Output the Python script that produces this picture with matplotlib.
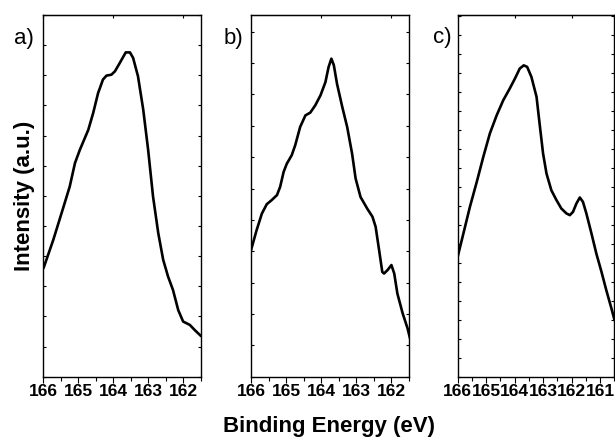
import matplotlib
matplotlib.use("Agg")
import matplotlib.pyplot as plt
from matplotlib.ticker import MultipleLocator, NullFormatter

plt.rcParams['font.family'] = ['Liberation Sans', 'DejaVu Sans']

# S 2p spectra, binding energy (eV) and intensity (a.u.)
energy_a = [166.0, 165.72, 165.44, 165.25, 165.10, 164.96, 164.72, 164.58, 164.44, 164.30,
            164.20, 164.06, 163.96, 163.82, 163.65, 163.53, 163.44, 163.30, 163.15, 163.01,
            162.87, 162.72, 162.58, 162.44, 162.30, 162.15, 162.01, 161.82, 161.68, 161.50]
intens_a = [3.60, 4.54, 5.59, 6.31, 7.09, 7.53, 8.19, 8.75, 9.41, 9.86,
            9.99, 10.02, 10.13, 10.41, 10.76, 10.76, 10.58, 9.97, 8.86, 7.53,
            5.98, 4.76, 3.88, 3.32, 2.88, 2.21, 1.83, 1.72, 1.55, 1.35]

energy_b = [166.0, 165.84, 165.69, 165.55, 165.41, 165.26, 165.17, 165.07, 164.98, 164.84,
            164.74, 164.60, 164.45, 164.31, 164.17, 164.02, 163.88, 163.79, 163.71, 163.64,
            163.55, 163.40, 163.26, 163.12, 163.02, 162.88, 162.69, 162.54, 162.45, 162.35,
            162.26, 162.21, 162.11, 162.00, 161.92, 161.83, 161.68, 161.54, 161.47]
intens_b = [4.03, 4.67, 5.20, 5.50, 5.63, 5.79, 6.05, 6.53, 6.79, 7.06,
            7.38, 7.96, 8.33, 8.42, 8.65, 8.97, 9.39, 9.87, 10.14, 9.93,
            9.34, 8.60, 7.96, 7.11, 6.32, 5.73, 5.36, 5.10, 4.78, 4.03,
            3.34, 3.29, 3.40, 3.56, 3.29, 2.65, 2.02, 1.54, 1.22]

energy_c = [166.0, 165.80, 165.57, 165.33, 165.10, 164.87, 164.63, 164.40, 164.17, 163.99,
            163.82, 163.68, 163.56, 163.41, 163.23, 163.11, 163.00, 162.88, 162.71, 162.53,
            162.36, 162.18, 162.06, 161.95, 161.83, 161.71, 161.60, 161.48, 161.30, 161.13,
            160.95, 160.78, 160.60, 160.49]
intens_c = [6.32, 7.54, 8.95, 10.26, 11.58, 12.81, 13.77, 14.56, 15.18, 15.70,
            16.23, 16.40, 16.32, 15.79, 14.74, 13.16, 11.75, 10.70, 9.82, 9.30,
            8.86, 8.60, 8.51, 8.68, 9.12, 9.44, 9.21, 8.60, 7.54, 6.49,
            5.53, 4.56, 3.60, 2.98]

panels = [
    ('a)', energy_a, intens_a, [0.0707, 0.1477, 0.2561, 0.8183], (166, 161.5), (0, 12), (0.039, 0.912)),
    ('b)', energy_b, intens_b, [0.4081, 0.1477, 0.2569, 0.8183], (166, 161.5), (0, 11.53), (0.380, 0.914)),
    ('c)', energy_c, intens_c, [0.7442, 0.1477, 0.2546, 0.8183], (166, 160.5), (0, 19.05), (0.719, 0.916)),
]

fig = plt.figure(figsize=(6.15, 4.42), dpi=100)

for lab, x, y, pos, xl, yl, lpos in panels:
    ax = fig.add_axes(pos)
    ax.plot(x, y, color='black', lw=1.9, solid_joinstyle='round', solid_capstyle='round')
    ax.set_xlim(*xl)
    ax.set_ylim(*yl)
    ax.xaxis.set_major_locator(MultipleLocator(1))
    ax.xaxis.set_minor_locator(MultipleLocator(0.5))
    ax.yaxis.set_major_locator(MultipleLocator(1))
    ax.yaxis.set_major_formatter(NullFormatter())
    ax.tick_params(axis='x', which='major', direction='out', length=4, width=0.8,
                   labelsize=12.5, pad=1.5)
    ax.tick_params(axis='x', which='minor', direction='out', length=3, width=0.8)
    ax.tick_params(axis='y', which='major', direction='in', length=2, width=0.8,
                   left=True, right=True)
    ax.secondary_xaxis('top').tick_params(axis='x', which='both', direction='in',
                                          length=2, width=0.8, labeltop=False)
    for t in ax.get_xticklabels():
        t.set_fontweight('bold')
    for s in ax.spines.values():
        s.set_linewidth(1.0)
    fig.text(lpos[0], lpos[1], lab, fontsize=16, ha='center', va='center')

fig.text(0.040, 0.557, 'Intensity (a.u.)', rotation=90, fontsize=16, fontweight='bold',
         ha='center', va='center')
fig.text(0.535, 0.034, 'Binding Energy (eV)', fontsize=16, fontweight='bold',
         ha='center', va='center')

fig.savefig('out.png', dpi=100)
